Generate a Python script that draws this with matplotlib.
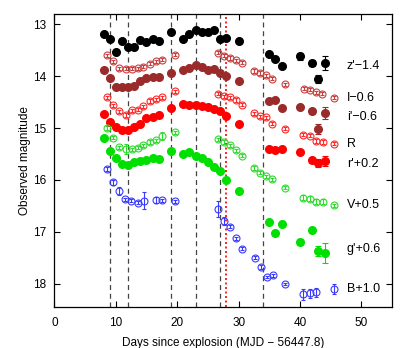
import matplotlib
matplotlib.use("Agg")
import matplotlib.pyplot as plt
import numpy as np

plt.rcParams['font.family'] = ['Liberation Sans', 'DejaVu Sans']
plt.rcParams['font.size'] = 8.5

# ---------------- data ----------------
# filled-symbol (g', r', i', z') epochs
t_filled = [8.0, 9.0, 10.0, 11.0, 12.0, 13.0, 14.0, 15.0, 16.0, 17.0, 19.0, 21.0, 22.0, 23.0,
            24.0, 25.0, 26.0, 27.0, 28.0, 30.0, 35.0, 36.0, 37.0, 40.0, 42.0, 43.0, 44.0]
z_mag = [13.18, 13.29, 13.53, 13.33, 13.44, 13.44, 13.31, 13.34, 13.28, 13.33, 13.14, 13.29, 13.19, 13.11,
         13.15, 13.15, 13.11, 13.29, 13.26, 13.32, 13.58, 13.66, 13.80, 13.62, 13.75, 14.06, 13.75]
z_err = [0.02]*23 + [0.07, 0.06, 0.08, 0.14]
i_mag = [13.89, 14.04, 14.21, 14.21, 14.21, 14.19, 14.10, 14.03, 14.01, 14.01, 13.94, 13.89, 13.85, 13.78,
         13.82, 13.88, 13.86, 13.94, 13.99, 14.10, 14.47, 14.46, 14.62, 14.59, 14.68, 15.02, 14.71]
i_err = [0.02]*23 + [0.03, 0.05, 0.10, 0.12]
r_mag = [14.73, 14.89, 14.98, 15.03, 15.03, 14.98, 14.92, 14.80, 14.79, 14.75, 14.62, 14.54, 14.56, 14.56,
         14.58, 14.60, 14.63, 14.68, 14.76, 14.92, 15.40, 15.42, 15.40, 15.47, 15.62, 15.67, 15.63]
r_err = [0.02]*23 + [0.03, 0.05, 0.08, 0.10]
g_mag = [15.19, 15.44, 15.58, 15.69, 15.72, 15.65, 15.64, 15.62, 15.58, 15.59, 15.44, 15.51, 15.47, 15.53,
         15.57, 15.65, 15.75, 15.83, 16.00, 16.22, 16.81, 17.02, 16.85, 17.20, 16.97, 17.37, 17.41]
g_err = [0.02]*23 + [0.06, 0.05, 0.10, 0.20]

# open-symbol (B, V, R, I) epochs
t_I = [8.5, 9.6, 10.6, 11.6, 12.6, 13.55, 14.5, 15.6, 16.6, 17.6, 19.6, 26.6, 27.6, 28.6, 29.6,
       30.6, 32.5, 33.5, 34.5, 35.5, 37.6, 40.6, 41.6, 42.6, 43.5]
I_mag = [13.60, 13.71, 13.85, 13.86, 13.86, 13.85, 13.82, 13.76, 13.71, 13.68, 13.59, 13.55, 13.61, 13.65,
         13.69, 13.74, 13.90, 13.94, 13.98, 14.05, 14.16, 14.24, 14.26, 14.31, 14.34]
I_err = [0.03]*25

t_R = [8.5, 9.6, 10.6, 11.6, 12.6, 13.55, 14.5, 15.6, 16.6, 17.6, 19.6, 26.6, 27.6, 28.6, 29.6,
       30.6, 32.5, 33.5, 34.5, 35.5, 37.6, 40.5, 41.6, 42.6, 43.7]
R_mag = [14.41, 14.56, 14.68, 14.75, 14.66, 14.65, 14.58, 14.48, 14.45, 14.41, 14.29, 14.34, 14.39, 14.41,
         14.46, 14.55, 14.72, 14.77, 14.79, 14.92, 15.01, 15.13, 15.15, 15.25, 15.27]
R_err = [0.03]*25

t_V = [8.5, 9.6, 10.6, 11.6, 12.6, 13.55, 14.5, 15.6, 16.6, 17.6, 19.6, 26.6, 27.6, 28.6, 29.6,
       30.6, 32.5, 33.5, 34.5, 35.5, 37.6, 40.5, 41.6, 42.6, 43.7]
V_mag = [15.00, 15.19, 15.37, 15.41, 15.41, 15.38, 15.33, 15.27, 15.24, 15.16, 15.08, 15.22, 15.27, 15.33,
         15.43, 15.53, 15.77, 15.86, 15.93, 15.99, 16.15, 16.34, 16.36, 16.42, 16.42]
V_err = [0.03, 0.03, 0.03, 0.10, 0.03, 0.03, 0.03, 0.03, 0.03, 0.08, 0.03, 0.03, 0.03, 0.03,
         0.03, 0.03, 0.03, 0.03, 0.03, 0.03, 0.03, 0.04, 0.04, 0.05, 0.05]

t_B = [8.6, 9.5, 10.6, 11.5, 12.5, 13.55, 14.6, 16.6, 17.6, 19.6, 26.6, 27.6, 28.6, 29.6,
       30.6, 32.6, 33.6, 34.6, 35.6, 37.6, 40.5, 41.6, 42.6]
B_mag = [15.79, 16.05, 16.21, 16.37, 16.40, 16.44, 16.40, 16.39, 16.39, 16.41, 16.56, 16.79, 16.90, 17.13,
         17.33, 17.50, 17.68, 17.87, 17.84, 18.00, 18.21, 18.19, 18.17]
B_err = [0.04, 0.05, 0.08, 0.03, 0.03, 0.03, 0.17, 0.06, 0.03, 0.03, 0.15, 0.08, 0.03, 0.03,
         0.03, 0.03, 0.03, 0.02, 0.03, 0.02, 0.10, 0.08, 0.08]

dashed_days = [9, 12, 19, 23, 27, 34]
red_day = 28

labels = ["z'\u22121.4", "I\u22120.6", "i'\u22120.6", "R", "r'+0.2", "V+0.5", "g'+0.6", "B+1.0"]
label_y = [13.81, 14.42, 14.79, 15.30, 15.70, 16.49, 17.33, 18.10]

# ---------------- plot ----------------
fig = plt.figure(figsize=(4.15, 3.48), dpi=100)
ax = fig.add_axes([0.131, 0.118, 0.814, 0.842])

for d in dashed_days:
    ax.axvline(d, color='#444444', lw=0.9, ls=(0, (4, 3)), zorder=1)
ax.axvline(red_day, color='red', lw=1.2, ls=(0, (1.2, 1.5)), zorder=1)

c_z, c_i, c_r, c_g = 'black', '#9b2b2b', '#ff0000', '#00e000'
c_I, c_R, c_V, c_B = '#c84040', '#ff2a2a', '#2edc2e', '#3a3aff'

filled = [(z_mag, z_err, c_z), (i_mag, i_err, c_i), (r_mag, r_err, c_r), (g_mag, g_err, c_g)]
for mag, err, col in filled:
    ax.errorbar(t_filled, mag, yerr=err, fmt='o', color=col, ms=5.5, mec=col,
                elinewidth=0.8, capsize=2, capthick=0.8, zorder=3)

opens = [(t_I, I_mag, I_err, c_I), (t_R, R_mag, R_err, c_R), (t_V, V_mag, V_err, c_V), (t_B, B_mag, B_err, c_B)]
for t, mag, err, col in opens:
    ax.errorbar(t, mag, yerr=err, fmt='o', mfc='none', mec=col, color=col, ms=5.0, mew=0.8,
                elinewidth=0.8, capsize=1.6, capthick=0.8, zorder=3)

# labels with key symbols for the open-symbol bands
open_cols = {1: c_I, 3: c_R, 5: c_V, 7: c_B}
for k, (lab, y) in enumerate(zip(labels, label_y)):
    ax.text(47.6, y, lab, ha='left', va='center', fontsize=9)
    if k in open_cols:
        ax.errorbar([45.5], [y], yerr=[0.1 if k == 7 else 0.03], fmt='o', mfc='none',
                    mec=open_cols[k], color=open_cols[k], ms=5.0, mew=0.8,
                    elinewidth=0.8, capsize=1.6, capthick=0.8)

ax.set_xlim(0, 55)
ax.set_ylim(18.45, 12.8)
ax.set_xticks([0, 10, 20, 30, 40, 50])
ax.set_yticks([13, 14, 15, 16, 17, 18])
ax.tick_params(direction='in', top=True, right=True, length=4, width=0.8, labelsize=8.5)
ax.tick_params(axis='x', pad=7)
ax.tick_params(axis='y', pad=6)
ax.set_xlabel('Days since explosion (MJD \u2212 56447.8)', fontsize=8.5, labelpad=6)
ax.set_ylabel('Observed magnitude', fontsize=8.5, labelpad=1)
for s in ax.spines.values():
    s.set_linewidth(0.9)

fig.savefig('out.png', dpi=100)
